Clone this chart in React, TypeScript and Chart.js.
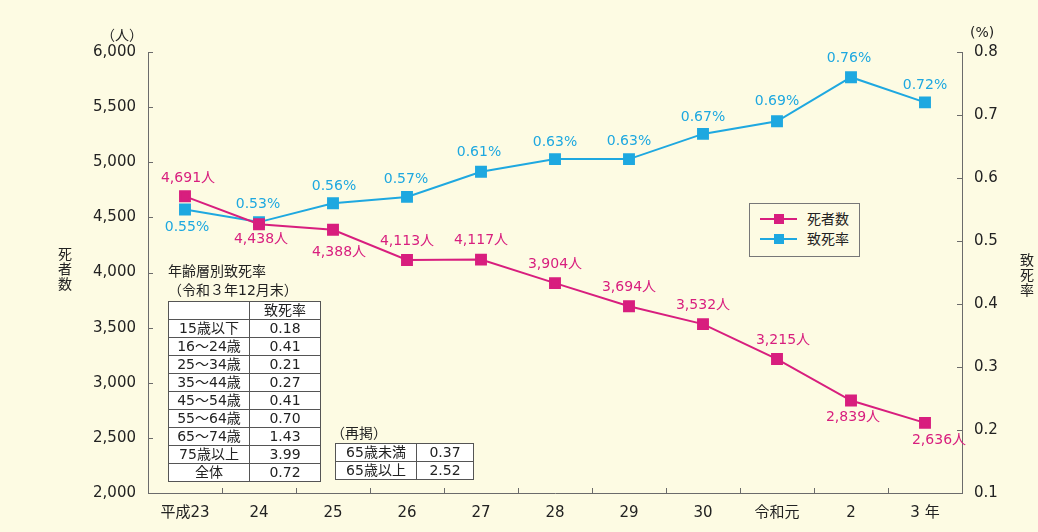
import React, { useEffect, useRef } from "react";
import { Chart, registerables } from "chart.js";

Chart.register(...registerables);

const years = ["平成23", "24", "25", "26", "27", "28", "29", "30", "令和元", "2", "3 年"];
const deaths = [4691, 4438, 4388, 4113, 4117, 3904, 3694, 3532, 3215, 2839, 2636];
const rates = [0.55, 0.53, 0.56, 0.57, 0.61, 0.63, 0.63, 0.67, 0.69, 0.76, 0.72];

const ageGroups = ["15歳以下", "16〜24歳", "25〜34歳", "35〜44歳", "45〜54歳", "55〜64歳", "65〜74歳", "75歳以上", "全体"];
const ageRates = ["0.18", "0.41", "0.21", "0.27", "0.41", "0.70", "1.43", "3.99", "0.72"];
const recapGroups = ["65歳未満", "65歳以上"];
const recapRates = ["0.37", "2.52"];

// label placement offsets (style, not data)
const deathLabelOffsets: [number, number][] = [
  [3, -18], [2, 15], [6, 23], [0, -19], [0, -19], [0, -19], [0, -19], [0, -19], [6, -19], [2, 17], [14, 17],
];
const rateLabelOffsets: [number, number][] = [
  [2, 18], [-1, -18], [1, -17], [-1, -18], [-2, -19], [0, -17], [0, -18], [0, -17], [0, -20], [-2, -19], [0, -17],
];

const MAGENTA = "#D81E7E";
const CYAN = "#1EA8E0";
const AXIS = "#6b6b6b";
const BG = "#FDFBE3";
const FONT = "'DejaVu Sans', 'Noto Sans CJK JP', sans-serif";

const labelPlugin = {
  id: "pointLabels",
  afterDatasetsDraw(chart: any) {
    const ctx = chart.ctx;
    ctx.save();
    ctx.font = `14px ${FONT}`;
    ctx.textAlign = "center";
    ctx.textBaseline = "middle";
    const m0 = chart.getDatasetMeta(0);
    m0.data.forEach((pt: any, i: number) => {
      const [dx, dy] = deathLabelOffsets[i];
      ctx.fillStyle = MAGENTA;
      ctx.fillText(deaths[i].toLocaleString("en-US") + "人", pt.x + dx, pt.y + dy);
    });
    const m1 = chart.getDatasetMeta(1);
    m1.data.forEach((pt: any, i: number) => {
      const [dx, dy] = rateLabelOffsets[i];
      ctx.fillStyle = CYAN;
      ctx.fillText(rates[i].toFixed(2) + "%", pt.x + dx, pt.y + dy);
    });
    ctx.restore();
  },
};

const innerTicksPlugin = {
  id: "innerTicks",
  afterDraw(chart: any) {
    const ctx = chart.ctx;
    const { y, y1, x } = chart.scales;
    const area = chart.chartArea;
    ctx.save();
    ctx.strokeStyle = AXIS;
    ctx.lineWidth = 1;
    ctx.beginPath();
    y.ticks.forEach((t: any) => {
      const py = Math.round(y.getPixelForValue(t.value)) + 0.5;
      ctx.moveTo(area.left, py);
      ctx.lineTo(area.left + 5, py);
    });
    y1.ticks.forEach((t: any) => {
      const py = Math.round(y1.getPixelForValue(t.value)) + 0.5;
      ctx.moveTo(area.right, py);
      ctx.lineTo(area.right - 5, py);
    });
    for (let i = 0; i < years.length - 1; i++) {
      const px = Math.round((x.getPixelForValue(i) + x.getPixelForValue(i + 1)) / 2) + 0.5;
      ctx.moveTo(px, area.bottom);
      ctx.lineTo(px, area.bottom - 5);
    }
    ctx.stroke();
    ctx.restore();
  },
};

const abs = (left: number, top: number, extra: any = {}) => ({
  position: "absolute" as const,
  left,
  top,
  ...extra,
});

const cell: any = {
  border: "1px solid #555",
  padding: 0,
  height: 17,
  lineHeight: "17px",
  textAlign: "center",
  fontSize: 14,
  color: "#222",
  background: "#ffffff",
  whiteSpace: "nowrap",
};

export default function App() {
  const ref = useRef<HTMLCanvasElement | null>(null);

  useEffect(() => {
    if (!ref.current) return;
    Chart.defaults.font.family = FONT;
    const chart = new Chart(ref.current, {
      type: "line",
      data: {
        labels: years,
        datasets: [
          {
            label: "死者数",
            data: deaths,
            yAxisID: "y",
            borderColor: MAGENTA,
            backgroundColor: MAGENTA,
            pointBackgroundColor: MAGENTA,
            pointBorderColor: MAGENTA,
            pointStyle: "rect",
            pointRadius: 7,
            borderWidth: 2,
          },
          {
            label: "致死率",
            data: rates,
            yAxisID: "y1",
            borderColor: CYAN,
            backgroundColor: CYAN,
            pointBackgroundColor: CYAN,
            pointBorderColor: CYAN,
            pointStyle: "rect",
            pointRadius: 7,
            borderWidth: 2,
          },
        ],
      },
      options: {
        animation: false,
        responsive: false,
        maintainAspectRatio: false,
        layout: { padding: { top: 52, left: 0, right: 0, bottom: 0 } },
        plugins: { legend: { display: false }, tooltip: { enabled: false } },
        scales: {
          x: {
            offset: true,
            grid: { display: false, offset: true },
            border: { display: true, color: AXIS, width: 1 },
            ticks: { color: "#222", font: { size: 15 }, padding: 3, autoSkip: false, maxRotation: 0 },
            afterFit(s: any) {
              s.height = 39;
            },
          },
          y: {
            position: "left",
            min: 2000,
            max: 6000,
            grid: { display: false },
            border: { display: true, color: AXIS, width: 1 },
            ticks: {
              stepSize: 500,
              color: "#222",
              font: { size: 15 },
              padding: 4,
              callback: (v: any) => Number(v).toLocaleString("en-US"),
            },
            afterFit(s: any) {
              s.width = 148;
            },
          },
          y1: {
            position: "right",
            min: 0.1,
            max: 0.8,
            grid: { display: false },
            border: { display: true, color: AXIS, width: 1 },
            ticks: {
              stepSize: 0.1,
              color: "#222",
              font: { size: 15 },
              padding: 4,
              callback: (v: any) => Number(v).toFixed(1),
            },
            afterFit(s: any) {
              s.width = 76;
            },
          },
        },
      },
      plugins: [labelPlugin, innerTicksPlugin],
    } as any);
    return () => chart.destroy();
  }, []);

  return (
    <div
      style={{
        position: "fixed",
        left: 0,
        top: 0,
        width: 1038,
        height: 532,
        background: BG,
        fontFamily: FONT,
        color: "#222",
        overflow: "hidden",
      }}
    >
      <canvas ref={ref} width={1038} height={532} style={{ position: "absolute", left: 0, top: 0, width: 1038, height: 532 }} />
      <div style={abs(101, 24, { fontSize: 14 })}>（人）</div>
      <div style={abs(970, 24, { fontSize: 14 })}>(%)</div>
      <div style={abs(57, 247, { fontSize: 14, lineHeight: "15px", width: 16, textAlign: "center" })}>
        死<br />者<br />数
      </div>
      <div style={abs(1019, 253, { fontSize: 14, lineHeight: "15px", width: 16, textAlign: "center" })}>
        致<br />死<br />率
      </div>

      {/* legend */}
      <div
        style={abs(749, 203, {
          width: 111,
          height: 54,
          border: "1px solid #777",
          boxSizing: "border-box",
          background: BG,
        })}
      >
        {[
          { c: MAGENTA, t: "死者数" },
          { c: CYAN, t: "致死率" },
        ].map((e, i) => (
          <div key={i} style={abs(10, 6 + i * 20, { width: 100, height: 18 })}>
            <div style={abs(0, 8, { width: 37, height: 2, background: e.c })} />
            <div style={abs(14, 4, { width: 10, height: 10, background: e.c })} />
            <div style={abs(47, 0, { fontSize: 14, lineHeight: "18px" })}>{e.t}</div>
          </div>
        ))}
      </div>

      {/* age table */}
      <div style={abs(168, 262, { fontSize: 14, lineHeight: "19px", whiteSpace: "nowrap" })}>
        年齢層別致死率
        <br />
        （令和３年12月末）
      </div>
      <table
        style={abs(168, 301, {
          borderCollapse: "collapse",
          width: 153,
          tableLayout: "fixed",
        })}
      >
        <tbody>
          <tr>
            <td style={{ ...cell, width: 80 }}></td>
            <td style={cell}>致死率</td>
          </tr>
          {ageGroups.map((g, i) => (
            <tr key={g}>
              <td style={cell}>{g}</td>
              <td style={cell}>{ageRates[i]}</td>
            </tr>
          ))}
        </tbody>
      </table>

      {/* recap table */}
      <div style={abs(331, 424, { fontSize: 14, lineHeight: "19px" })}>（再掲）</div>
      <table
        style={abs(335, 443, {
          borderCollapse: "collapse",
          width: 139,
          tableLayout: "fixed",
        })}
      >
        <tbody>
          {recapGroups.map((g, i) => (
            <tr key={g}>
              <td style={{ ...cell, width: 80 }}>{g}</td>
              <td style={cell}>{recapRates[i]}</td>
            </tr>
          ))}
        </tbody>
      </table>
    </div>
  );
}
